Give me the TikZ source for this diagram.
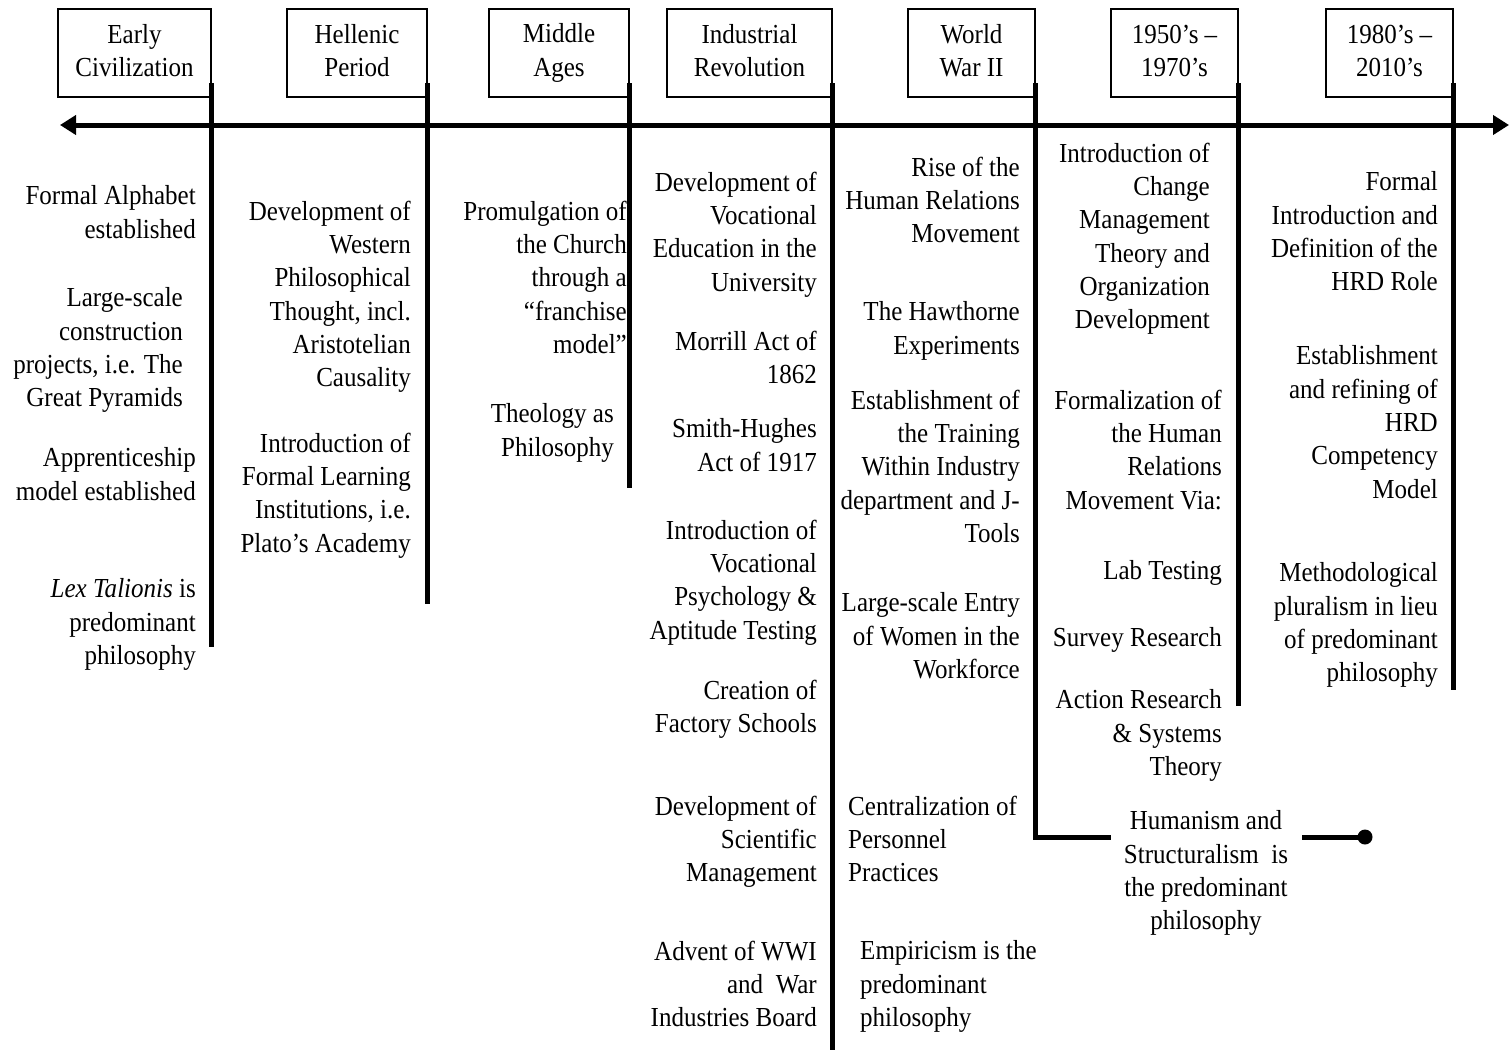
\documentclass[tikz,border=0pt]{standalone}
\usepackage{fontspec}
\setmainfont{Liberation Serif}[FakeStretch=0.91]
\usetikzlibrary{arrows.meta}

\begin{document}
\begin{tikzpicture}[x=1pt,y=-1pt,
  every node/.style={inner sep=0pt, font=\fontsize{27.5}{33.3}\selectfont},
  period/.style={draw, line width=1.4pt, minimum width=#1, minimum height=88pt,
    align=center, execute at begin node={\rule{0pt}{37.3pt}},
    execute at end node={\rule[-4.6pt]{0pt}{4.6pt}}},
  note/.style={align=right, anchor=north east, yshift=19.3pt, execute at begin node=\strut},
  notel/.style={align=left, anchor=north west, yshift=19.3pt, execute at begin node=\strut},
  notec/.style={align=center, anchor=north, yshift=19.3pt, execute at begin node=\strut},
  eraline/.style={line width=5pt},
  axis/.style={line width=5pt,
    {Triangle[length=16pt,width=19pt]}-{Triangle[length=16pt,width=19pt]}}]

\useasboundingbox (0,0) rectangle (1509,1050);

% period boxes
\node[period=153pt] (p1) at (134.5,53) {Early\\Civilization};
\node[period=140pt] (p2) at (357,53)   {Hellenic\\Period};
\node[period=140pt] (p3) at (559,53)   {Middle\\Ages};
\node[period=165pt] (p4) at (749.5,53) {Industrial\\Revolution};
\node[period=127pt] (p5) at (971.5,53) {World\\War II};
\node[period=127pt] (p6) at (1174.5,53){1950’s –\\1970’s};
\node[period=127pt] (p7) at (1389.5,53){1980’s –\\2010’s};

% main time axis
\coordinate (axL) at (60,125);
\coordinate (axR) at (1509,125);
\draw[axis] (axL) -- (axR);

% era dividers
\coordinate (s1) at (211,83);   \coordinate (e1) at (211,647);
\coordinate (s2) at (427,83);   \coordinate (e2) at (427,604);
\coordinate (s3) at (629,83);   \coordinate (e3) at (629,488);
\coordinate (s4) at (832,83);   \coordinate (e4) at (832,1050);
\coordinate (s5) at (1035,83);  \coordinate (e5) at (1111,837);
\coordinate (s6) at (1238,83);  \coordinate (e6) at (1238,706);
\coordinate (s7) at (1453,83);  \coordinate (e7) at (1453,690);
\draw[eraline] (s1) -- (e1);
\draw[eraline] (s2) -- (e2);
\draw[eraline] (s3) -- (e3);
\draw[eraline] (s4) -- (e4);
\draw[eraline] (s5) |- (e5);
\draw[eraline] (s6) -- (e6);
\draw[eraline] (s7) -- (e7);

% Early Civilization
\node[note] (a1) at (196,205) {Formal Alphabet\\established};
\node[note] (a2) at (183,307) {Large-scale\\construction\\projects, i.e. The\\Great Pyramids};
\node[note] (a3) at (196,467) {Apprenticeship\\model established};
\node[note] (a4) at (196,598) {\textit{Lex Talionis} is\\predominant\\philosophy};

% Hellenic Period
\node[note] (b1) at (411,220) {Development of\\Western\\Philosophical\\Thought, incl.\\Aristotelian\\Causality};
\node[note] (b2) at (411,452) {Introduction of\\Formal Learning\\Institutions, i.e.\\Plato’s Academy};

% Middle Ages
\node[note] (c1) at (627,220) {Promulgation of\\the Church\\through a\\“franchise\\model”};
\node[note] (c2) at (614,423) {Theology as\\Philosophy};

% Industrial Revolution
\node[note] (d1) at (817,191) {Development of\\Vocational\\Education in the\\University};
\node[note] (d2) at (817,350) {Morrill Act of\\1862};
\node[note] (d3) at (817,438) {Smith-Hughes\\Act of 1917};
\node[note] (d4) at (817,539) {Introduction of\\Vocational\\Psychology \&\\Aptitude Testing};
\node[note] (d5) at (817,699) {Creation of\\Factory Schools};
\node[note] (d6) at (817,815) {Development of\\Scientific\\Management};
\node[note] (d7) at (817,960) {Advent of WWI\\and~ War\\Industries Board};

% World War II
\node[note] (f1) at (1020,176) {Rise of the\\Human Relations\\Movement};
\node[note] (f2) at (1020,321) {The Hawthorne\\Experiments};
\node[note] (f3) at (1020,409) {Establishment of\\the Training\\Within Industry\\department and J-\\Tools};
\node[note] (f4) at (1020,612) {Large-scale Entry\\of Women in the\\Workforce};
\node[notel] (f5) at (848,815) {Centralization of\\Personnel\\Practices};
\node[notel] (f6) at (860,960) {Empiricism is the\\predominant\\philosophy};

% 1950's - 1970's
\node[note] (g1) at (1210,162) {Introduction of\\Change\\Management\\Theory and\\Organization\\Development};
\node[note] (g2) at (1222,409) {Formalization of\\the Human\\Relations\\Movement Via:};
\node[note] (g3) at (1222,575) {Lab Testing};
\node[note] (g4) at (1222,642) {Survey Research};
\node[note] (g5) at (1222,709) {Action Research\\\& Systems\\Theory};
\node[notec] (g6) at (1206,830) {Humanism and\\Structuralism~ is\\the predominant\\philosophy};

% closing segment of the World War II line
\coordinate (h1) at (1302,837);
\coordinate (h2) at (1365,837);
\draw[eraline] (h1) -- (h2);
\fill (h2) circle (7.5pt);

% 1980's - 2010's
\node[note] (k1) at (1438,191) {Formal\\Introduction and\\Definition of the\\HRD Role};
\node[note] (k2) at (1438,365) {Establishment\\and refining of\\HRD\\Competency\\Model};
\node[note] (k3) at (1438,582) {Methodological\\pluralism in lieu\\of predominant\\philosophy};

\end{tikzpicture}
\end{document}
